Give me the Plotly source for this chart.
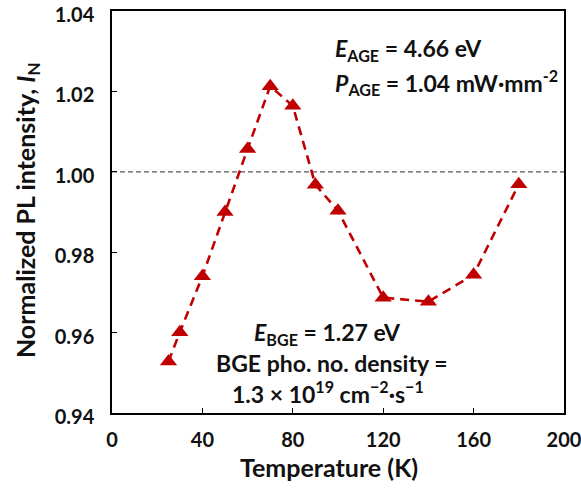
import plotly.graph_objects as go

# Temperature-dependent normalized PL intensity
temperature_k = [25, 30, 40, 50, 60, 70, 80, 90, 100, 120, 140, 160, 180]
intensity_n = [0.9528, 0.9601, 0.9740, 0.9900, 1.0057, 1.0213, 1.0164, 0.9968,
               0.9903, 0.9687, 0.9677, 0.9744, 0.9969]

x_ticks = [0, 40, 80, 120, 160, 200]
y_ticks = [0.94, 0.96, 0.98, 1.00, 1.02, 1.04]
reference_level = 1.00

FONT = "Lato"
RED = "#C00000"
INK = "#111111"

fig = go.Figure()

# reference line at I_N = 1
fig.add_shape(type="line", xref="paper", yref="y", x0=0, x1=1,
              y0=reference_level, y1=reference_level,
              line=dict(color="#555555", width=1.3, dash="5px,3px"), layer="below")

fig.add_trace(go.Scatter(
    x=temperature_k, y=intensity_n, mode="lines+markers",
    line=dict(color=RED, width=2.6, dash="9px,6px"),
    marker=dict(symbol="triangle-up", size=15, color=RED),
    showlegend=False,
))

axis_common = dict(
    showline=True, linecolor="black", linewidth=1.5, mirror=True,
    ticks="inside", ticklen=5, tickwidth=1.3, tickcolor="black",
    showgrid=False, zeroline=False, automargin=False,
    ticklabeloverflow="allow",
    tickfont=dict(family=FONT, size=20, color=INK),
)

fig.update_xaxes(range=[0, 200], tickvals=x_ticks,
                 ticktext=[f"<b>{v}</b>" for v in x_ticks],
                 ticklabelstandoff=8, **axis_common)
fig.update_yaxes(range=[0.94, 1.04], tickvals=y_ticks,
                 ticktext=[f"<b>{v:.2f}</b>" for v in y_ticks],
                 ticklabelstandoff=12, ticklabelshift=4, **axis_common)

title_font = dict(family=FONT, size=25, color=INK)
# axis titles
fig.add_annotation(x=0.48, y=-0.135, xref="paper", yref="paper", xanchor="center", yanchor="middle",
                   text="<b>Temperature (K)</b>", showarrow=False, font=title_font)
fig.add_annotation(x=-0.188, y=0.505, xref="paper", yref="paper", xanchor="center", yanchor="middle",
                   text="<b>Normalized PL intensity, <i>I</i><sub>N</sub></b>", textangle=-90,
                   showarrow=False, font=title_font)

ann_font = dict(family=FONT, size=23, color=INK)
fig.add_annotation(x=0.489, y=0.903, xref="paper", yref="paper", xanchor="left", yanchor="middle",
                   text="<b><i>E</i><sub>AGE</sub> = 4.66 eV</b>", showarrow=False, font=ann_font)
fig.add_annotation(x=0.489, y=0.823, xref="paper", yref="paper", xanchor="left", yanchor="middle",
                   text="<b><i>P</i><sub>AGE</sub> = 1.04 mW·mm<sup>-2</sup></b>", showarrow=False, font=ann_font)
fig.add_annotation(x=0.477, y=0.199, xref="paper", yref="paper", xanchor="center", yanchor="middle",
                   text="<b><i>E</i><sub>BGE</sub> = 1.27 eV</b>", showarrow=False, font=ann_font)
fig.add_annotation(x=0.486, y=0.124, xref="paper", yref="paper", xanchor="center", yanchor="middle",
                   text="<b>BGE pho. no. density =</b>", showarrow=False, font=ann_font)
fig.add_annotation(x=0.478, y=0.052, xref="paper", yref="paper", xanchor="center", yanchor="middle",
                   text="<b>1.3 × 10<sup>19</sup> cm<sup>−2</sup>·s<sup>−1</sup></b>", showarrow=False, font=ann_font)

fig.update_layout(
    width=581, height=490,
    margin=dict(l=112, r=17, t=11, b=77),
    plot_bgcolor="white", paper_bgcolor="white",
)

fig.write_html("out.html")
